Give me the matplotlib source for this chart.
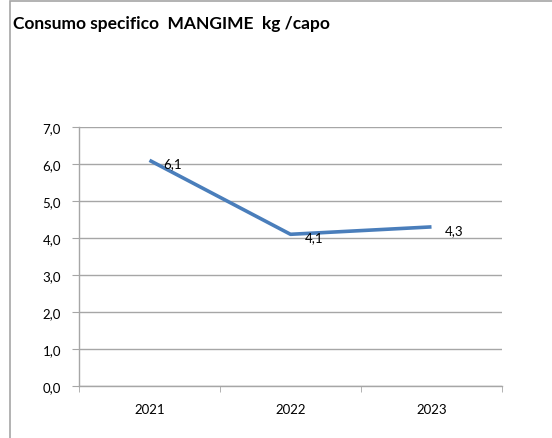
import matplotlib
matplotlib.use("Agg")
import matplotlib.pyplot as plt
from matplotlib.patches import Rectangle
from matplotlib.ticker import FixedLocator

years = ["2021", "2022", "2023"]
values = [6.1, 4.1, 4.3]
yticks = [0, 1, 2, 3, 4, 5, 6, 7]

plt.rcParams['font.family'] = ['Lato', 'DejaVu Sans']

fig = plt.figure(figsize=(5.52, 4.39), dpi=100)
W, H = 552, 439

# outer chart frame
frame = Rectangle((10 / W, -0.1), 1.2, 1 - 1.5 / H + 0.1, transform=fig.transFigure,
                  fill=False, edgecolor='#a6a6a6', linewidth=1.2, zorder=0)
fig.patches.append(frame)

fig.text(13 / W, 1 - 24 / H, "Consumo specifico  MANGIME  kg /capo", fontsize=12.5,
         fontweight='bold', ha='left', va='center', color='black')

ax = fig.add_axes([79 / W, 1 - 387 / H, (502 - 79) / W, (387 - 128) / H])
x = list(range(len(years)))
ax.plot(x, values, color='#4a7ebb', linewidth=2.6, solid_capstyle='butt', zorder=3)
ax.set_xlim(-0.5, len(years) - 0.5)
ax.set_ylim(0, 7)

ax.set_yticks(yticks)
ax.set_yticklabels([f"{v:.1f}".replace('.', ',') for v in yticks], fontsize=9.5)
ax.set_xticks(x)
ax.set_xticklabels(years, fontsize=9.5)
ax.xaxis.set_minor_locator(FixedLocator([i - 0.5 for i in range(len(years) + 1)]))
ax.tick_params(axis='x', which='major', length=0, pad=12)
ax.tick_params(axis='x', which='minor', length=4, color='#a6a6a6', direction='out')
ax.tick_params(axis='y', length=5, color='#a6a6a6', direction='out', pad=8)

ax.grid(axis='y', color='#a6a6a6', linewidth=1.0, zorder=0)
for s in ['top', 'right']:
    ax.spines[s].set_visible(False)
for s in ['left', 'bottom']:
    ax.spines[s].set_color('#a6a6a6')
    ax.spines[s].set_linewidth(1.0)

offsets = [(10, -2), (10, -2), (9.5, -2)]
for xi, v, off in zip(x, values, offsets):
    ax.annotate(f"{v:.1f}".replace('.', ','), (xi, v), xytext=off,
                textcoords='offset points', fontsize=9.5, ha='left', va='center')

fig.savefig("out.png", dpi=100)
